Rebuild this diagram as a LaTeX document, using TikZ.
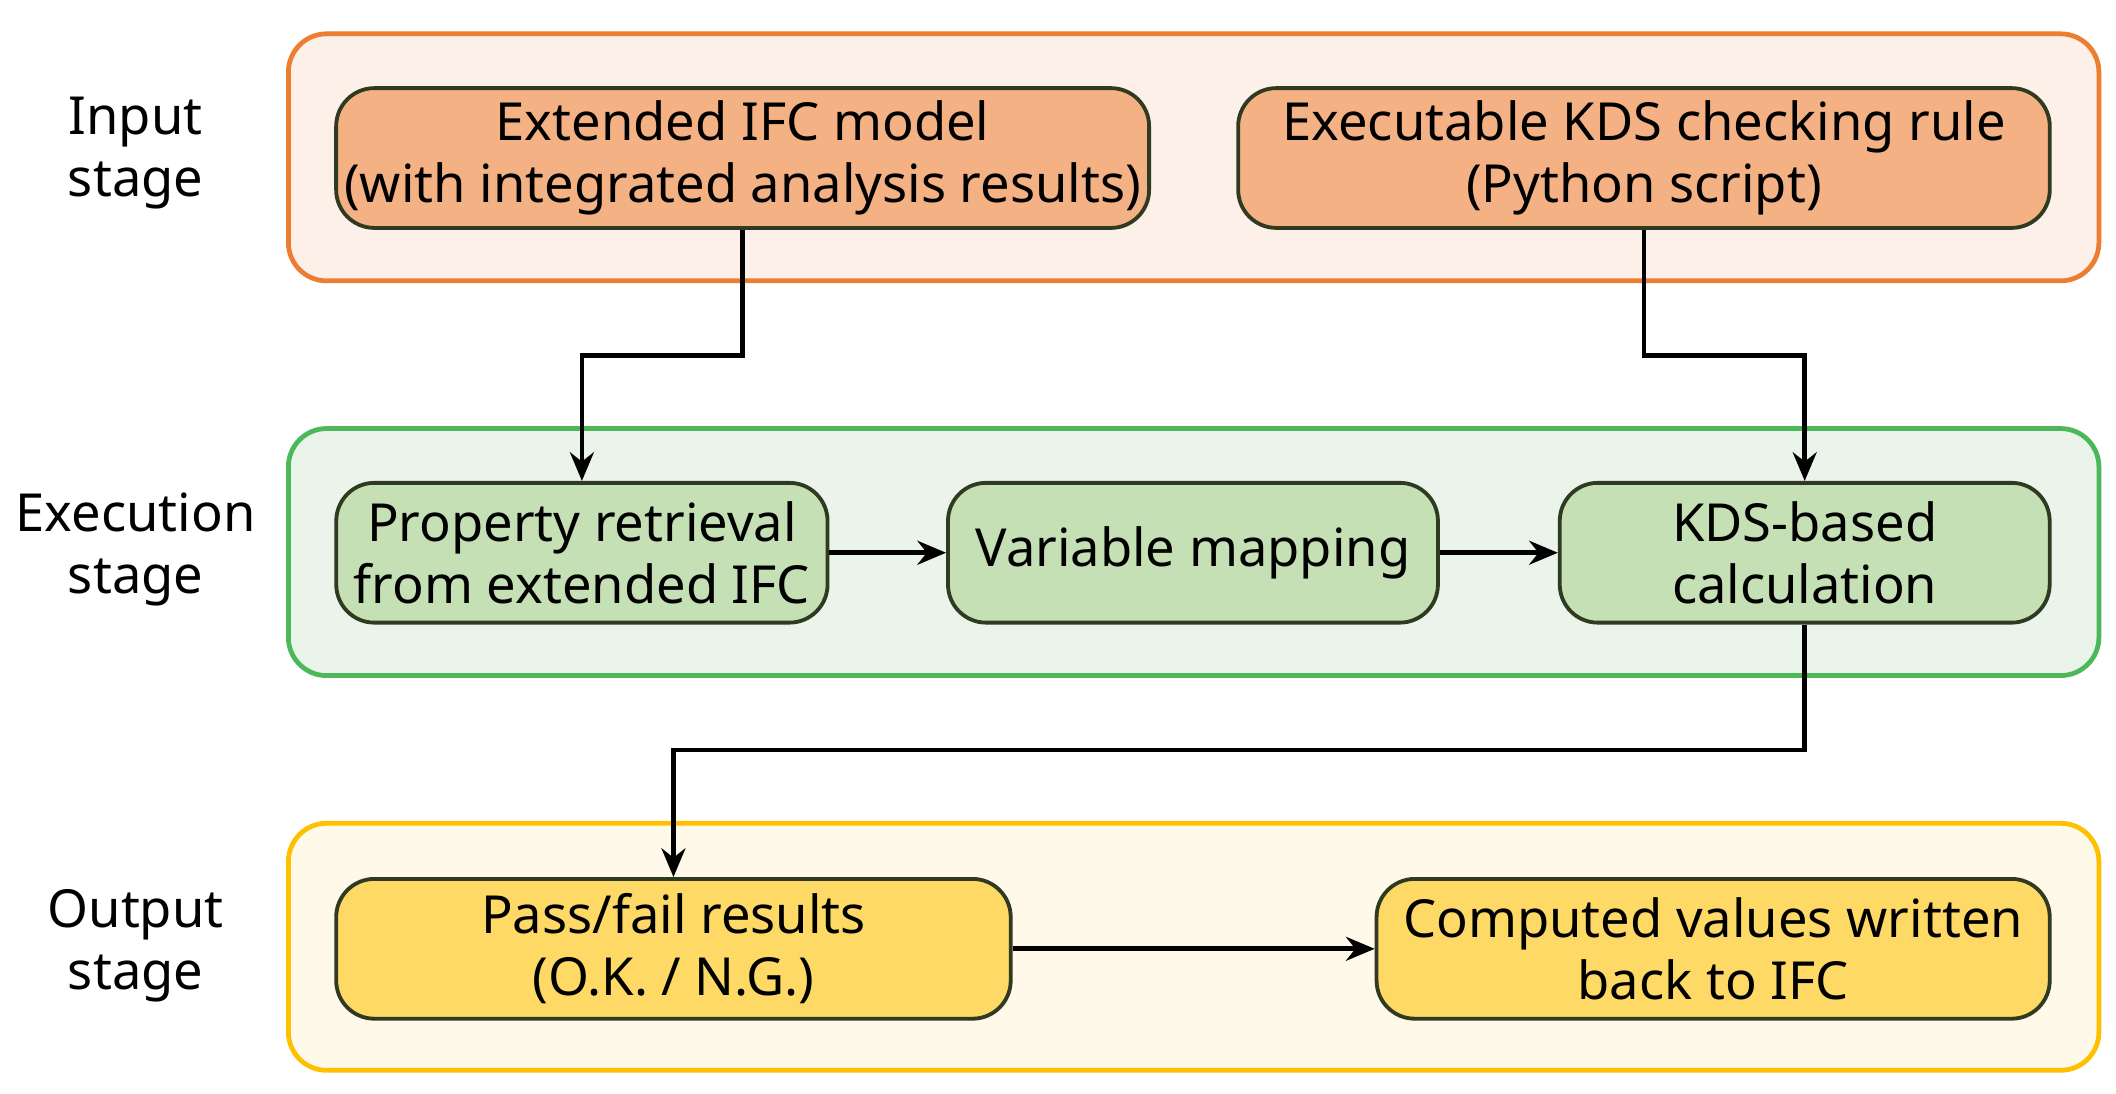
\documentclass[tikz,border=0pt]{standalone}
\usepackage{fontspec}
\setmainfont{Noto Sans}
\usetikzlibrary{positioning,arrows.meta}
\definecolor{inFill}{HTML}{F4B183}
\definecolor{inBack}{HTML}{FDF0E9}
\definecolor{inLine}{HTML}{ED7D31}
\definecolor{exFill}{HTML}{C5E0B4}
\definecolor{exBack}{HTML}{EBF4EB}
\definecolor{exLine}{HTML}{4CB85A}
\definecolor{outFill}{HTML}{FFD966}
\definecolor{outBack}{HTML}{FFF9EA}
\definecolor{outLine}{HTML}{FFC000}
\definecolor{boxLine}{HTML}{2F3A20}
\tikzset{
  stage/.style={draw, line width=1pt, rounded corners=8pt, minimum width=13.34cm, minimum height=1.82cm},
  stepbox/.style={draw=boxLine, line width=0.8pt, rounded corners=8pt, minimum height=1.03cm, align=center, font=\fontsize{11}{13}\selectfont, inner sep=0pt},
  lbl/.style={align=center, font=\fontsize{11}{13}\selectfont},
  flow/.style={-{Stealth[length=6pt,width=5pt]}, line width=1pt}
}
\begin{document}
\begin{tikzpicture}[x=0.01cm,y=-0.01cm]
    \useasboundingbox (0,0) rectangle (1560,806);
    % stage frames
    \node[stage, draw=inLine, fill=inBack] (input) at (880,116) {};
    \node[stage, draw=exLine, fill=exBack] (exec) at (880,407) {};
    \node[stage, draw=outLine, fill=outBack] (output) at (880,698) {};

    % stage labels
    \node[lbl] (inlbl) at (100,113) {Input\\stage};
    \node[lbl] (exlbl) at (100,405) {Execution\\stage};
    \node[lbl] (outlbl) at (100,697) {Output\\stage};

    % input stage
    \node[stepbox, fill=inFill, minimum width=5.99cm] (ifc) at (547.5,116.5) {Extended IFC model\\(with integrated analysis results)};
    \node[stepbox, fill=inFill, minimum width=5.98cm] (rule) at (1212,116.5) {Executable KDS checking rule\\(Python script)};

    % execution stage
    \node[stepbox, fill=exFill, minimum width=3.62cm] (prop) at (429,407.5) {Property retrieval\\from extended IFC};
    \node[stepbox, fill=exFill, minimum width=3.61cm] (var) at (879.5,407.5) {Variable mapping};
    \node[stepbox, fill=exFill, minimum width=3.61cm] (kds) at (1330.5,407.5) {KDS-based\\calculation};

    % output stage
    \node[stepbox, fill=outFill, minimum width=4.97cm] (pass) at (496.5,699.5) {Pass/fail results\\(O.K. / N.G.)};
    \node[stepbox, fill=outFill, minimum width=4.96cm] (comp) at (1263,699.5) {Computed values written\\back to IFC};

    % connectors
    \draw[flow] (ifc.south) |- (488,262) -| (prop.north);
    \draw[flow] (rule.south) |- (1270,262) -| (kds.north);
    \draw[flow] (prop) -- (var);
    \draw[flow] (var) -- (kds);
    \draw[flow] (kds.south) |- (900,553) -| (pass.north);
    \draw[flow] (pass) -- (comp);
\end{tikzpicture}
\end{document}
